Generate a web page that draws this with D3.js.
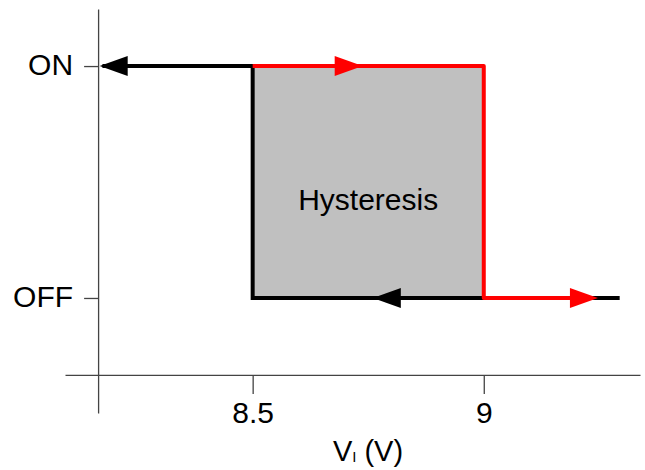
<!DOCTYPE html>
<html>
<head>
<meta charset="utf-8">
<script src="https://cdn.jsdelivr.net/npm/d3@7"></script>
<style>
  body { margin: 0; background: #fff; }
  svg { display: block; font-family: "Liberation Sans", Arial, sans-serif; }
</style>
</head>
<body>
<svg id="chart"></svg>
<script>
// thresholds on the input voltage axis
const xTicks = [8.5, 9];
// output states (0 = OFF, 1 = ON)
const yTicks = [0, 1];
const yTickLabels = ["OFF", "ON"];

// falling branch (black): from high input back down to turn-off
const fallingPath = [[9.294, 0], [8.5, 0], [8.5, 1], [8.175, 1]];
// rising branch (red): turns on at 9 V
const risingPath = [[8.5, 1], [9, 1], [9, 0], [9.19, 0]];

// arrow heads: tip position and direction (+1 right, -1 left)
const arrows = [
  { x: 8.169, y: 1, dir: -1, color: "#000" },
  { x: 8.738, y: 1, dir: 1, color: "#ff0000" },
  { x: 8.76, y: 0, dir: -1, color: "#000" },
  { x: 9.247, y: 0, dir: 1, color: "#ff0000" }
];

// the shaded hysteresis window
const band = { x0: 8.5, x1: 9, y0: 0, y1: 1, label: "Hysteresis" };

const width = 645, height = 470;
const fontSize = 30;
const svg = d3.select("#chart").attr("width", width).attr("height", height);

// scales
const x = d3.scaleLinear().domain([8.094, 9.338]).range([65, 640]);
const y = d3.scaleLinear().domain([-0.496, 1.246]).range([413, 9]);
const xAxisAt = -0.332; // y value where the horizontal axis crosses
const yAxisAt = 8.1656; // x value where the vertical axis crosses

// band
svg.append("rect")
  .attr("x", x(band.x0))
  .attr("y", y(band.y1))
  .attr("width", x(band.x1) - x(band.x0))
  .attr("height", y(band.y0) - y(band.y1))
  .attr("fill", "#c0c0c0");

svg.append("text")
  .attr("x", (x(band.x0) + x(band.x1)) / 2)
  .attr("y", y(0.378))
  .attr("text-anchor", "middle")
  .attr("font-size", fontSize)
  .attr("fill", "#000")
  .text(band.label);

// axes
const xAxis = d3.axisBottom(x)
  .tickValues(xTicks)
  .tickFormat(d3.format("~g"))
  .tickSize(19)
  .tickSizeOuter(0)
  .tickPadding(8);

const gx = svg.append("g")
  .attr("transform", "translate(0," + y(xAxisAt) + ")")
  .call(xAxis);

const yAxis = d3.axisLeft(y)
  .tickValues(yTicks)
  .tickFormat((d, i) => yTickLabels[i])
  .tickSize(14)
  .tickSizeOuter(0)
  .tickPadding(11);

const gy = svg.append("g")
  .attr("transform", "translate(" + x(yAxisAt) + ",0)")
  .call(yAxis);

[gx, gy].forEach(g => {
  g.select(".domain").attr("stroke", "#444").attr("stroke-width", 1.3);
  g.selectAll(".tick line").attr("stroke", "#444").attr("stroke-width", 1.3);
  g.selectAll(".tick text")
    .attr("font-size", fontSize)
    .attr("font-family", "Liberation Sans, Arial, sans-serif")
    .attr("fill", "#000");
});
gy.selectAll(".tick text").attr("dy", "0.28em");

// x label with subscript
const xlabel = svg.append("text")
  .attr("x", 368)
  .attr("y", 461)
  .attr("text-anchor", "middle")
  .attr("font-size", 29)
  .attr("fill", "#000");
xlabel.append("tspan").text("V");
xlabel.append("tspan").attr("font-size", 15).attr("dy", 1).text("I");
xlabel.append("tspan").attr("dy", -1).text(" (V)");

// branches
const line = d3.line().x(d => x(d[0])).y(d => y(d[1]));

svg.append("path")
  .attr("d", line(fallingPath))
  .attr("fill", "none")
  .attr("stroke", "#000")
  .attr("stroke-width", 4)
  .attr("stroke-linejoin", "miter");

svg.append("path")
  .attr("d", line(risingPath))
  .attr("fill", "none")
  .attr("stroke", "#ff0000")
  .attr("stroke-width", 4)
  .attr("stroke-linejoin", "round");

// arrow heads
const arrowLen = 28, arrowHalf = 10;
svg.append("g")
  .selectAll("path")
  .data(arrows)
  .join("path")
  .attr("d", d => {
    const tx = x(d.x), ty = y(d.y);
    const bx = tx - d.dir * arrowLen;
    return "M" + tx + "," + ty +
      "L" + bx + "," + (ty - arrowHalf) +
      "L" + bx + "," + (ty + arrowHalf) + "Z";
  })
  .attr("fill", d => d.color);
</script>
</body>
</html>
